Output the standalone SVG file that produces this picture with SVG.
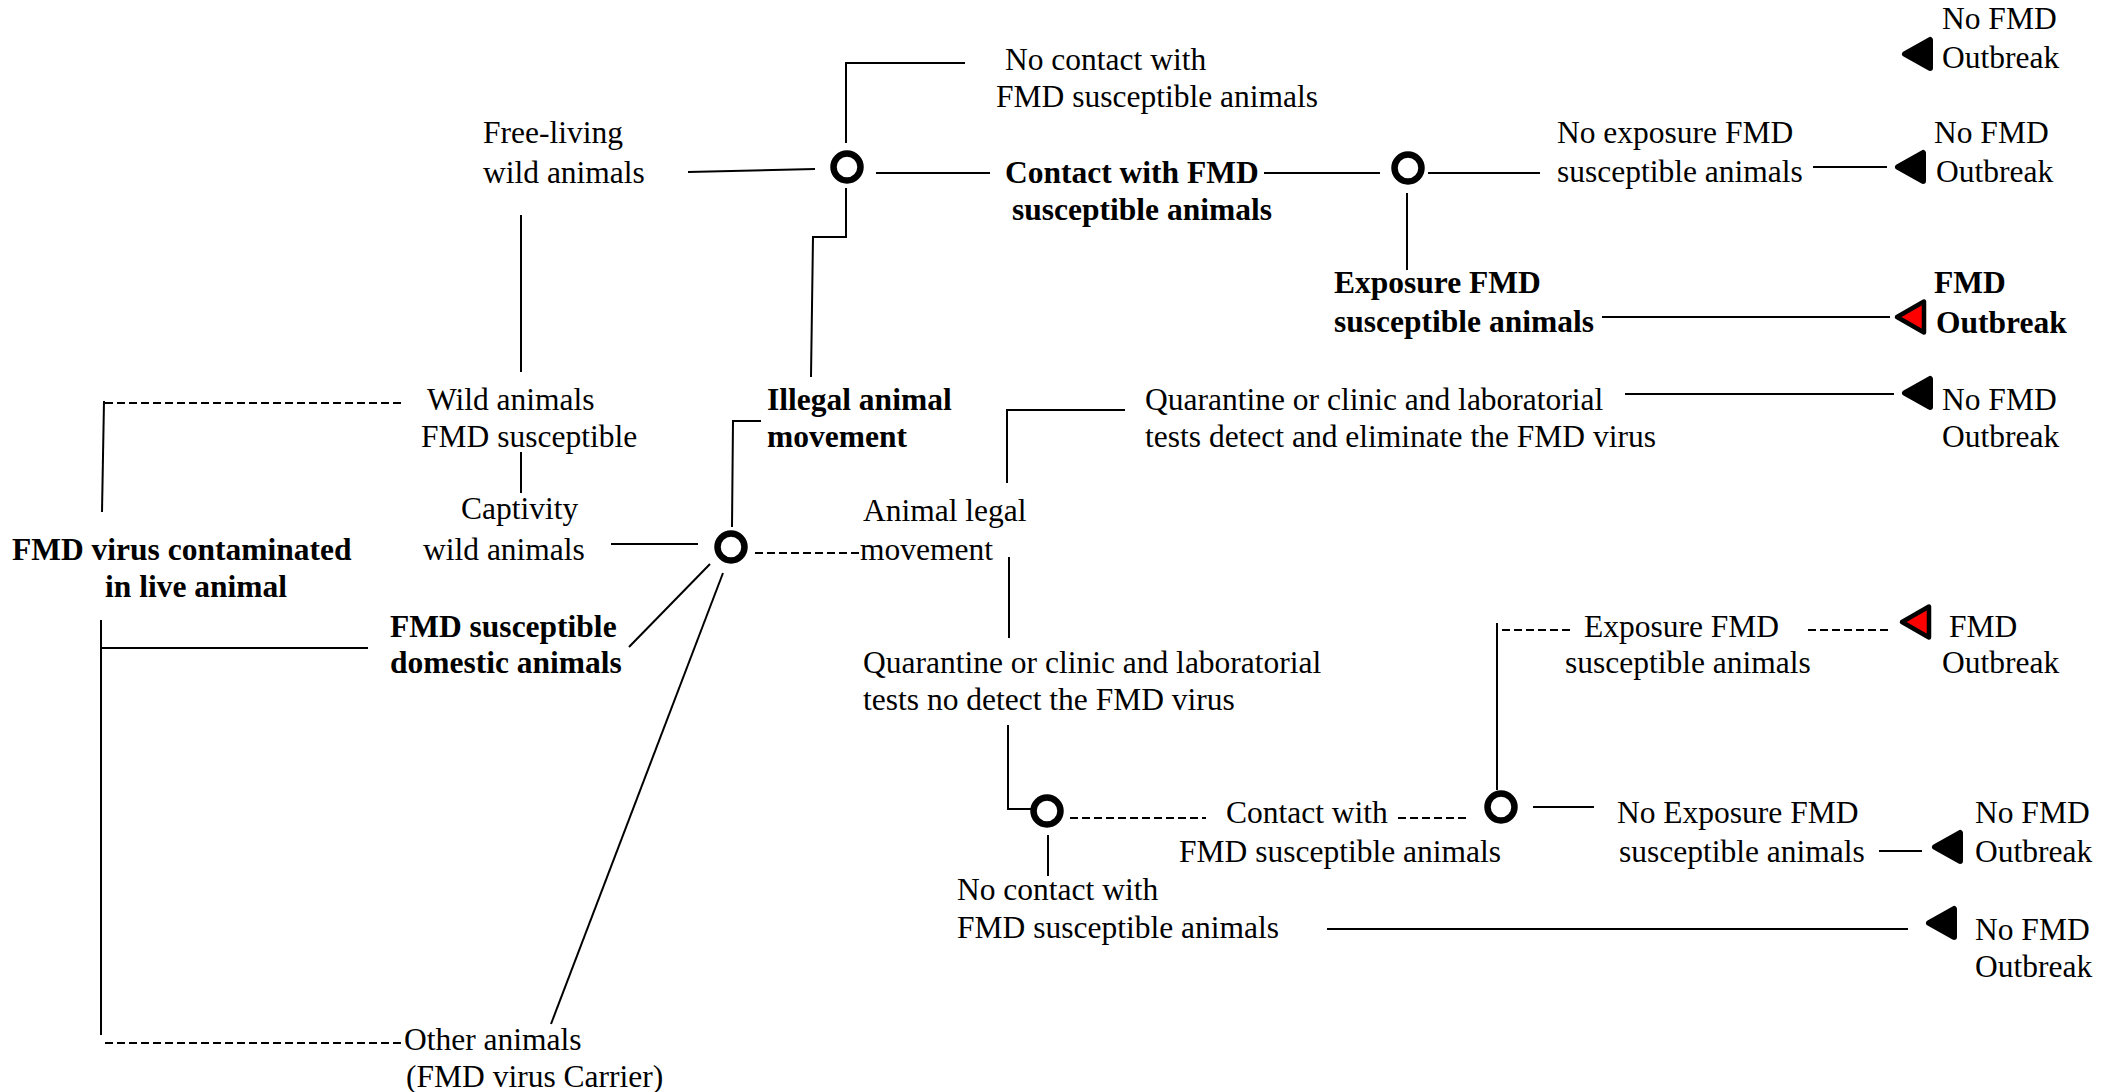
<svg xmlns="http://www.w3.org/2000/svg" width="2116" height="1092" viewBox="0 0 2116 1092">
<style>
text{font-family:"Liberation Serif","Times New Roman",serif;font-size:31.5px;fill:#000}
.b{font-weight:bold}
.ln{fill:none;stroke:#000;stroke-width:2}
.ds{fill:none;stroke:#000;stroke-width:2;stroke-dasharray:8 4}
.ch{fill:#fff;stroke:#000;stroke-width:6.5}
.tb{fill:#000;stroke:#000;stroke-width:6;stroke-linejoin:round}
.tr{fill:#ff0000;stroke:#000;stroke-width:4.5;stroke-linejoin:round}
</style>
<defs>
<path id="tri" d="M0,0 L25,-14 L25,14 Z"/>
<path id="trir" d="M0,0 L27,-15.5 L27,15.5 Z"/>
</defs>
<rect width="2116" height="1092" fill="#fff"/>
<g id="connectors">
<path class="ln" d="M965,63 H846 V143"/>
<path class="ln" d="M688,172 L815,169"/>
<path class="ln" d="M876,173 H990"/>
<path class="ln" d="M846,188 V237 H813 L811,377"/>
<path class="ln" d="M521,215 V372"/>
<path class="ds" d="M105,403 H402"/>
<path class="ln" d="M104,401 L102,512"/>
<path class="ln" d="M521,452 V493"/>
<path class="ln" d="M611,544 H698"/>
<path class="ln" d="M732,527 L733,421 H761"/>
<path class="ds" d="M755,553 H859"/>
<path class="ln" d="M1007,483 V410 H1125"/>
<path class="ln" d="M1625,394 H1894"/>
<path class="ln" d="M1264,173 H1380"/>
<path class="ln" d="M1428,173 H1540"/>
<path class="ln" d="M1813,167 H1887"/>
<path class="ln" d="M1407,193 V270"/>
<path class="ln" d="M1602,317 H1890"/>
<path class="ln" d="M1009,557 V638"/>
<path class="ln" d="M101,620 V1035"/>
<path class="ln" d="M101,648 H368"/>
<path class="ds" d="M105,1043 H402"/>
<path class="ln" d="M710,564 L629,647"/>
<path class="ln" d="M723,573 L551,1024"/>
<path class="ln" d="M1008,725 V809 H1031"/>
<path class="ln" d="M1048,835 V876"/>
<path class="ds" d="M1070,818 H1206"/>
<path class="ds" d="M1398,818 H1468"/>
<path class="ln" d="M1497,623 V790"/>
<path class="ds" d="M1502,630 H1574"/>
<path class="ds" d="M1808,630 H1891"/>
<path class="ln" d="M1533,807 H1594"/>
<path class="ln" d="M1879,851 H1922"/>
<path class="ln" d="M1327,929 H1908"/>
</g>
<g id="chance-nodes">
<circle id="c1" class="ch" cx="847" cy="167" r="13.5"/>
<circle id="c2" class="ch" cx="1408" cy="168" r="13.5"/>
<circle id="c3" class="ch" cx="731" cy="547" r="13.5"/>
<circle id="c4" class="ch" cx="1047" cy="811" r="13.5"/>
<circle id="c5" class="ch" cx="1501" cy="807" r="13.5"/>
</g>
<g id="terminals">
<use href="#tri" class="tb" x="1905" y="54"/>
<use href="#tri" class="tb" x="1898" y="167"/>
<use href="#trir" class="tr" x="1897" y="317"/>
<use href="#tri" class="tb" x="1905" y="393"/>
<use href="#trir" class="tr" x="1902" y="622"/>
<use href="#tri" class="tb" x="1935" y="847"/>
<use href="#tri" class="tb" x="1929" y="923"/>
</g>
<g id="n-nocontact1"><text x="1005" y="70">No contact with</text><text x="996" y="107">FMD susceptible animals</text></g>
<g id="n-freeliving"><text x="483" y="143">Free-living</text><text x="483" y="183">wild animals</text></g>
<g id="n-contact1"><text class="b" x="1005" y="183">Contact with FMD</text><text class="b" x="1012" y="220">susceptible animals</text></g>
<g id="n-out1"><text x="1942" y="29">No FMD</text><text x="1942" y="68">Outbreak</text></g>
<g id="n-noexposure1"><text x="1557" y="143">No exposure FMD</text><text x="1557" y="182">susceptible animals</text></g>
<g id="n-out2"><text x="1934" y="143">No FMD</text><text x="1936" y="182">Outbreak</text></g>
<g id="n-exposure1"><text class="b" x="1334" y="293">Exposure FMD</text><text class="b" x="1334" y="332">susceptible animals</text></g>
<g id="n-out3"><text class="b" x="1934" y="293">FMD</text><text class="b" x="1936" y="333">Outbreak</text></g>
<g id="n-wildsusc"><text x="427" y="410">Wild animals</text><text x="421" y="447">FMD susceptible</text></g>
<g id="n-illegal"><text class="b" x="767" y="410">Illegal animal</text><text class="b" x="767" y="447">movement</text></g>
<g id="n-detect"><text x="1145" y="410">Quarantine or clinic and laboratorial</text><text x="1145" y="447">tests detect and eliminate the FMD virus</text></g>
<g id="n-out4"><text x="1942" y="410">No FMD</text><text x="1942" y="447">Outbreak</text></g>
<g id="n-captivity"><text x="461" y="519">Captivity</text><text x="423" y="560">wild animals</text></g>
<g id="n-legal"><text x="863" y="521">Animal legal</text><text x="860" y="560">movement</text></g>
<g id="n-root"><text class="b" x="12" y="560">FMD virus contaminated</text><text class="b" x="105" y="597">in live animal</text></g>
<g id="n-domestic"><text class="b" x="390" y="637">FMD susceptible</text><text class="b" x="390" y="673">domestic animals</text></g>
<g id="n-nodetect"><text x="863" y="673">Quarantine or clinic and laboratorial</text><text x="863" y="710">tests no detect the FMD virus</text></g>
<g id="n-exposure2"><text x="1584" y="637">Exposure FMD</text><text x="1565" y="673">susceptible animals</text></g>
<g id="n-out5"><text x="1949" y="637">FMD</text><text x="1942" y="673">Outbreak</text></g>
<g id="n-contact2"><text x="1226" y="823">Contact with</text><text x="1179" y="862">FMD susceptible animals</text></g>
<g id="n-noexposure2"><text x="1617" y="823">No Exposure FMD</text><text x="1619" y="862">susceptible animals</text></g>
<g id="n-out6"><text x="1975" y="823">No FMD</text><text x="1975" y="862">Outbreak</text></g>
<g id="n-nocontact2"><text x="957" y="900">No contact with</text><text x="957" y="938">FMD susceptible animals</text></g>
<g id="n-out7"><text x="1975" y="940">No FMD</text><text x="1975" y="977">Outbreak</text></g>
<g id="n-other"><text x="404" y="1050">Other animals</text><text x="406" y="1087">(FMD virus Carrier)</text></g>
</svg>
